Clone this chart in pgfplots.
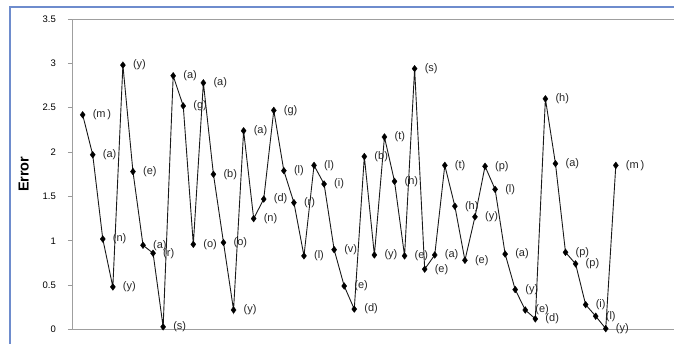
\documentclass[border=0pt]{standalone}
\usepackage{pgfplots}
\pgfplotsset{compat=1.18}
\usepackage{pgfplotstable}
\usepackage{fontspec}
\setmainfont{Liberation Sans}
\definecolor{frameblue}{RGB}{110,140,205}
\pgfplotstableread{
i e l
1 2.42 m\,
2 1.97 a
3 1.02 n
4 0.48 y
5 2.98 y
6 1.78 e
7 0.95 a
8 0.86 r
9 0.03 s
10 2.86 a
11 2.52 g
12 0.96 o
13 2.78 a
14 1.75 b
15 0.98 o
16 0.22 y
17 2.24 a
18 1.25 n
19 1.47 d
20 2.47 g
21 1.79 l
22 1.43 r
23 0.83 l
24 1.85 l
25 1.64 i
26 0.90 v
27 0.49 e
28 0.23 d
29 1.95 b
30 0.84 y
31 2.17 t
32 1.67 h
33 0.83 e
34 2.94 s
35 0.68 e
36 0.84 a
37 1.85 t
38 1.39 h
39 0.78 e
40 1.27 y
41 1.84 p
42 1.58 l
43 0.85 a
44 0.45 y
45 0.22 e
46 0.12 d
47 2.60 h
48 1.87 a
49 0.87 p
50 0.74 p
51 0.28 i
52 0.15 l
53 0.01 y
54 1.85 m\,
}\datatable
\begin{document}
\begin{tikzpicture}
\begin{axis}[
  scale only axis, width=610pt, height=310.5pt,
  at={(0,0)}, anchor=south west,
  xmin=-0.06, xmax=60.58, ymin=0, ymax=3.5,
  xtick=\empty,
  ytick={0,0.5,1,1.5,2,2.5,3,3.5},
  ytick pos=left,
  tick align=outside,
  major tick length=4pt,
  tick style={gray!80, line width=0.6pt},
  axis line style={gray!75, line width=0.8pt},
  /pgf/number format/assume math mode=true,
  yticklabel style={font=\fontsize{9.5}{11}\selectfont, inner sep=0pt, xshift=-12pt},
  ylabel={\textbf{Error}},
  ylabel style={font=\fontsize{14.5}{16}\selectfont, at={(axis description cs:-0.079,0.5)}, anchor=center, rotate=0},
  clip=false,
]
\addplot[black!90, line width=0.9pt, mark=diamond*, mark size=3.4pt,
  mark options={fill=black, draw=black, line width=0.3pt},
  point meta=explicit symbolic,
  nodes near coords={(\pgfplotspointmeta)},
  every node near coord/.append style={anchor=west, xshift=10pt, inner sep=0pt, font=\fontsize{11}{12}\selectfont, text=black!85}
] table[x=i, y=e, meta=l] {\datatable};
\end{axis}
\draw[frameblue, line width=1.5pt] (-62pt,-40pt) -- (-62pt,322.5pt) -- (720pt,322.5pt);
\pgfresetboundingbox
\path[use as bounding box] (-72pt,-13.5pt) rectangle (602pt,329.5pt);
\end{tikzpicture}
\end{document}
